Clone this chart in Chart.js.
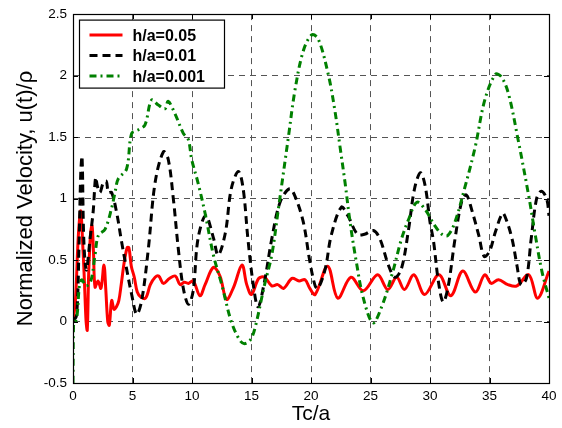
<!DOCTYPE html>
<html>
<head>
<meta charset="utf-8">
<script src="https://cdn.jsdelivr.net/npm/chart.js@4/dist/chart.umd.min.js"></script>
<style>
  html, body { margin: 0; padding: 0; background: #fff; }
  #wrap { position: relative; width: 562px; height: 428px; }
</style>
</head>
<body>
<div id="wrap"><canvas id="c" width="562" height="428"></canvas></div>
<script>
// ---- data ----
const seriesLabels = ['h/a=0.05', 'h/a=0.01', 'h/a=0.001'];

const redT = [0, 0.2, 0.45, 0.65, 0.82, 0.95, 1.1, 1.2, 1.32, 1.48, 1.6, 1.72, 1.85, 2.1, 2.35, 2.6, 2.75, 2.92, 3.05, 3.25, 3.45, 3.65, 3.85, 4.05, 4.3, 4.55, 4.7, 4.9, 5.15, 5.4, 5.7, 6.1, 6.5, 6.9, 7.2, 7.6, 8.1, 8.6, 9.0, 9.35, 9.7, 10.1, 10.67, 11.1, 11.8, 12.35, 12.9, 13.5, 14.2, 14.6, 15.0, 15.6, 16.1, 16.7, 17.2, 17.7, 18.4, 19.0, 19.5, 19.9, 20.35, 21.4, 22.25, 23.35, 24.4, 25.6, 26.45, 27.2, 27.85, 28.65, 29.55, 30.75, 31.75, 32.75, 33.8, 34.6, 35.15, 35.75, 36.55, 37.3, 38.3, 39.05, 40];
const redV = [0, 0.16, 0.7, 0.9, 0.62, 0.35, 0.0, -0.07, 0.4, 0.72, 0.78, 0.57, 0.28, 0.33, 0.27, 0.46, 0.27, 0.0, -0.03, 0.17, 0.1, 0.12, 0.17, 0.3, 0.48, 0.6, 0.6, 0.45, 0.36, 0.24, 0.2, 0.19, 0.3, 0.36, 0.37, 0.31, 0.35, 0.37, 0.3, 0.32, 0.31, 0.33, 0.21, 0.3, 0.44, 0.37, 0.18, 0.28, 0.46, 0.3, 0.22, 0.35, 0.36, 0.29, 0.3, 0.27, 0.35, 0.33, 0.34, 0.27, 0.22, 0.45, 0.19, 0.36, 0.25, 0.38, 0.26, 0.36, 0.26, 0.38, 0.22, 0.38, 0.21, 0.41, 0.24, 0.38, 0.31, 0.34, 0.3, 0.29, 0.38, 0.19, 0.41];

const blackT = [0, 0.3, 0.5, 0.65, 0.76, 0.88, 1.0, 1.14, 1.43, 1.7, 1.9, 2.05, 2.27, 2.55, 2.8, 2.97, 3.24, 3.66, 4.08, 4.5, 4.93, 5.35, 5.77, 6.33, 6.9, 7.6, 8.0, 8.43, 8.85, 9.27, 9.7, 10.1, 10.5, 11.15, 11.8, 12.2, 12.8, 13.3, 13.9, 14.3, 14.7, 15.15, 15.55, 16.1, 16.7, 17.4, 18.2, 18.65, 19.35, 19.9, 20.35, 20.6, 21.2, 21.7, 22.55, 23.1, 23.9, 24.5, 25.25, 25.8, 26.5, 27.05, 27.6, 28.2, 28.7, 29.2, 29.6, 30.0, 30.3, 30.7, 31.1, 31.5, 32.1, 32.65, 33.05, 33.5, 34.1, 34.55, 35.0, 35.5, 36.1, 36.4, 36.9, 37.3, 37.65, 38.1, 38.5, 38.96, 39.35, 39.8, 40];
const blackV = [0, 0.05, 0.6, 1.2, 1.34, 0.75, 0.5, 0.42, 0.67, 0.9, 1.17, 1.1, 1.05, 1.13, 1.14, 1.05, 1.05, 0.89, 0.65, 0.43, 0.22, 0.06, 0.17, 0.59, 1.13, 1.38, 1.32, 1.0, 0.59, 0.27, 0.14, 0.25, 0.67, 0.86, 0.68, 0.54, 0.72, 1.08, 1.22, 1.08, 0.67, 0.3, 0.12, 0.33, 0.67, 0.97, 1.08, 1.02, 0.81, 0.49, 0.29, 0.27, 0.43, 0.7, 0.93, 0.86, 0.71, 0.71, 0.74, 0.67, 0.46, 0.36, 0.43, 0.75, 1.08, 1.21, 1.1, 0.81, 0.65, 0.33, 0.16, 0.27, 0.67, 0.97, 1.03, 0.91, 0.7, 0.53, 0.57, 0.73, 0.88, 0.83, 0.67, 0.46, 0.3, 0.35, 0.67, 1.0, 1.06, 1.0, 0.86];

const greenT = [0, 0.05, 0.3, 0.55, 0.75, 1.1, 1.5, 1.85, 2.13, 2.69, 3.24, 3.53, 3.8, 4.5, 4.93, 5.5, 6.05, 6.6, 7.17, 7.73, 8.0, 8.57, 9.27, 9.69, 9.97, 10.5, 11.1, 11.8, 12.5, 13.3, 14.0, 14.4, 14.9, 15.3, 16.1, 16.7, 17.25, 18.1, 18.65, 19.35, 20.05, 20.6, 21.45, 22.0, 22.44, 22.86, 23.28, 23.8, 24.4, 25.2, 25.9, 26.8, 27.6, 28.2, 28.9, 29.6, 30.4, 31.0, 31.5, 32.1, 32.9, 33.8, 34.6, 35.5, 36.0, 36.6, 37.4, 38.3, 38.8, 39.4, 40];
const greenV = [-0.5, -0.02, 0.02, 0.3, 0.34, 0.29, 0.33, 0.54, 0.7, 0.75, 0.92, 1.05, 1.16, 1.24, 1.53, 1.56, 1.6, 1.8, 1.76, 1.73, 1.79, 1.69, 1.53, 1.48, 1.32, 1.13, 0.88, 0.54, 0.3, 0.0, -0.15, -0.18, -0.15, -0.05, 0.3, 0.54, 0.91, 1.5, 1.88, 2.2, 2.33, 2.3, 2.01, 1.72, 1.42, 1.13, 0.81, 0.49, 0.19, -0.01, 0.11, 0.38, 0.67, 0.83, 0.97, 0.91, 0.78, 0.71, 0.7, 0.81, 1.08, 1.42, 1.8, 2.01, 1.99, 1.85, 1.48, 1.02, 0.73, 0.41, 0.19];

const xTickLabels = ['0', '5', '10', '15', '20', '25', '30', '35', '40'];
const yTickLabels = ['-0.5', '0', '0.5', '1', '1.5', '2', '2.5'];
const xTitle = 'Tc/a';
const yTitle = 'Normalized Velocity, u(t)/\u03C1';

// ---- build ----
const FONT = "'Liberation Sans', Arial, Helvetica, sans-serif";
function pts(t, v) { return t.map((x, i) => ({ x: x, y: v[i] })); }

const frameAndLegend = {
  id: 'frameAndLegend',
  afterDraw(chart) {
    const { ctx, chartArea: a, scales } = chart;
    ctx.save();
    // inward tick marks (MATLAB style)
    ctx.strokeStyle = '#000';
    ctx.lineWidth = 1;
    ctx.setLineDash([]);
    const tl = 5;
    scales.x.ticks.forEach(t => {
      const px = Math.round(scales.x.getPixelForValue(t.value)) + 0.5;
      ctx.beginPath();
      ctx.moveTo(px, a.bottom); ctx.lineTo(px, a.bottom - tl);
      ctx.moveTo(px, a.top); ctx.lineTo(px, a.top + tl);
      ctx.stroke();
    });
    scales.y.ticks.forEach(t => {
      const py = Math.round(scales.y.getPixelForValue(t.value)) + 0.5;
      ctx.beginPath();
      ctx.moveTo(a.left, py); ctx.lineTo(a.left + tl, py);
      ctx.moveTo(a.right, py); ctx.lineTo(a.right - tl, py);
      ctx.stroke();
    });
    // box
    ctx.lineWidth = 1.2;
    ctx.strokeRect(Math.round(a.left) + 0.5, Math.round(a.top) + 0.5,
                   Math.round(a.right - a.left), Math.round(a.bottom - a.top));
    // legend
    const lx = a.left + 6.5, ly = a.top + 6, lw = 145, lh = 68;
    ctx.fillStyle = '#fff';
    ctx.fillRect(lx, ly, lw, lh);
    ctx.lineWidth = 1.2;
    ctx.strokeStyle = '#000';
    ctx.strokeRect(lx, ly, lw, lh);
    ctx.font = 'bold 16px ' + FONT;
    ctx.textBaseline = 'middle';
    ctx.textAlign = 'left';
    chart.data.datasets.forEach((ds, i) => {
      const y = ly + 15 + i * 20.5;
      ctx.beginPath();
      ctx.strokeStyle = ds.borderColor;
      ctx.lineWidth = ds.borderWidth;
      ctx.setLineDash(ds.borderDash || []);
      ctx.moveTo(lx + 10, y); ctx.lineTo(lx + 43, y);
      ctx.stroke();
      ctx.setLineDash([]);
      ctx.fillStyle = '#000';
      ctx.fillText(ds.label, lx + 53, y + 1);
    });
    ctx.restore();
  }
};

new Chart(document.getElementById('c'), {
  type: 'line',
  data: {
    datasets: [
      { label: seriesLabels[0], data: pts(redT, redV), borderColor: '#ff0000', borderWidth: 3, borderDash: [], order: 3 },
      { label: seriesLabels[1], data: pts(blackT, blackV), borderColor: '#000000', borderWidth: 3, borderDash: [8, 5], order: 2 },
      { label: seriesLabels[2], data: pts(greenT, greenV), borderColor: '#008000', borderWidth: 3, borderDash: [7, 4, 2, 4], order: 1 }
    ]
  },
  options: {
    responsive: false,
    animation: false,
    devicePixelRatio: 1,
    layout: { padding: { left: 0, right: 13, top: 8, bottom: 0 } },
    elements: {
      point: { radius: 0, hoverRadius: 0 },
      line: { tension: 0.35, fill: false, borderCapStyle: 'butt', borderJoinStyle: 'round' }
    },
    plugins: { legend: { display: false }, tooltip: { enabled: false } },
    scales: {
      x: {
        type: 'linear', min: 0, max: 40,
        afterFit(s) { s.height = 45; },
        afterBuildTicks(s) { s.ticks = xTickLabels.map(l => ({ value: parseFloat(l) })); },
        ticks: {
          callback: (v, i) => xTickLabels[i],
          color: '#000', padding: 5, maxRotation: 0, autoSkip: false,
          font: { family: FONT, size: 13.5 }
        },
        grid: { color: '#555', lineWidth: 1, drawTicks: false },
        border: { display: true, color: '#000', width: 1, dash: [6, 5] },
        title: {
          display: true, text: xTitle, color: '#000',
          font: { family: FONT, size: 21, lineHeight: 1 },
          padding: { top: 0, bottom: 3 }
        }
      },
      y: {
        type: 'linear', min: -0.5, max: 2.5,
        afterFit(s) { s.width = 73; },
        afterBuildTicks(s) { s.ticks = yTickLabels.map(l => ({ value: parseFloat(l) })); },
        ticks: {
          callback: (v, i) => yTickLabels[i],
          color: '#000', padding: 6, autoSkip: false,
          font: { family: FONT, size: 13.5 }
        },
        grid: { color: '#555', lineWidth: 1, drawTicks: false },
        border: { display: true, color: '#000', width: 1, dash: [6, 5] },
        title: {
          display: true, text: yTitle, color: '#000',
          font: { family: FONT, size: 22, lineHeight: 1 },
          padding: { top: 15, bottom: 0 }
        }
      }
    }
  },
  plugins: [frameAndLegend]
});
</script>
</body>
</html>
